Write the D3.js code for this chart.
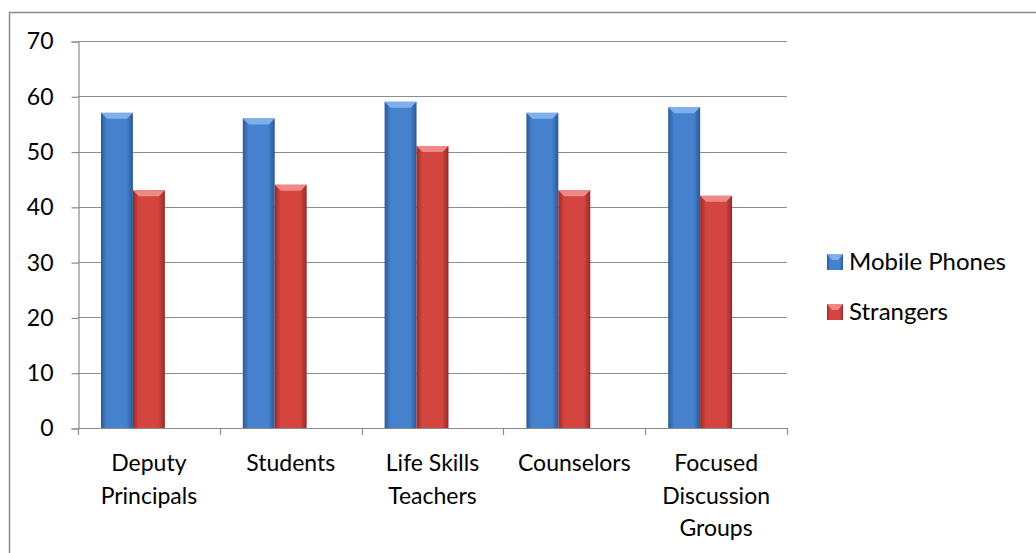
<!DOCTYPE html>
<html>
<head>
<meta charset="utf-8">
<script src="https://cdn.jsdelivr.net/npm/d3@7"></script>
<style>
  body { margin: 0; background: #fff; }
  svg { display: block; }
  text { font-family: Lato, "Open Sans", sans-serif; fill: #000; }
</style>
</head>
<body>
<svg id="chart"></svg>
<script>
var width = 1036,
  height = 553;

var categories = [['Deputy', 'Principals'], ['Students'], ['Life Skills', 'Teachers'],
  ['Counselors'], ['Focused', 'Discussion', 'Groups']];
var seriesNames = ['Mobile Phones', 'Strangers'];
var mobilePhones = [57, 56, 59, 57, 58];
var strangers = [43, 44, 51, 43, 42];
var yTicks = [0, 10, 20, 30, 40, 50, 60, 70];

var colors = [
  { mid: '#4581cc', edge: '#2a5a98', top: '#7fb0ec' },
  { mid: '#d4453f', edge: '#962a28', top: '#ee8a86' }
];

var fontSize = 23;

var svg = d3.select('#chart')
  .attr('width', width)
  .attr('height', height);

var defs = svg.append('defs');
colors.forEach(function(c, i) {
  var grad = defs.append('linearGradient')
    .attr('id', 'grad' + i)
    .attr('x1', 0).attr('x2', 1).attr('y1', 0).attr('y2', 0);
  grad.append('stop').attr('offset', '0%').attr('stop-color', c.edge);
  grad.append('stop').attr('offset', '18%').attr('stop-color', c.mid);
  grad.append('stop').attr('offset', '80%').attr('stop-color', c.mid);
  grad.append('stop').attr('offset', '100%').attr('stop-color', c.edge);
});

// chart border (only top/left visible in the frame)
svg.append('rect')
  .attr('x', 9.5).attr('y', 12.5)
  .attr('width', width + 20).attr('height', height + 20)
  .attr('fill', 'none')
  .attr('stroke', '#8c8c8c')
  .attr('stroke-width', 1.5);

var plotLeft = 78, plotRight = 787, plotTop = 41, plotBottom = 428;

var x = d3.scaleBand()
  .domain(d3.range(categories.length))
  .range([plotLeft, plotRight]);

// three slots per category (third series is empty)
var xs = d3.scaleBand()
  .domain([0, 1, 2])
  .range([0, x.bandwidth()])
  .paddingOuter(0.72)
  .paddingInner(0);

var y = d3.scaleLinear()
  .domain([0, 70])
  .range([plotBottom, plotTop]);

// gridlines
svg.append('g')
  .selectAll('line')
  .data(yTicks.slice(1))
  .enter().append('line')
  .attr('x1', plotLeft).attr('x2', plotRight)
  .attr('y1', function(d) { return Math.round(y(d)) + 0.5; })
  .attr('y2', function(d) { return Math.round(y(d)) + 0.5; })
  .attr('stroke', '#8c8c8c')
  .attr('stroke-width', 1.2);

// y axis
var yAxis = svg.append('g')
  .attr('transform', 'translate(' + (plotLeft + 0.5) + ',0.5)')
  .call(d3.axisLeft(y).tickValues(yTicks).tickSize(7).tickPadding(18));
yAxis.selectAll('.domain, line').attr('stroke', '#8c8c8c').attr('stroke-width', 1.2);
yAxis.selectAll('text')
  .attr('font-size', fontSize)
  .attr('font-family', 'Lato, sans-serif')
  .attr('fill', '#000');

// bars
var series = [mobilePhones, strangers];
series.forEach(function(vals, si) {
  var g = svg.append('g');
  var bars = g.selectAll('g')
    .data(vals)
    .enter().append('g')
    .attr('transform', function(d, i) {
      return 'translate(' + (x(i) + xs(si)) + ',0)';
    });
  var bw = xs.bandwidth();
  bars.append('rect')
    .attr('x', 0)
    .attr('y', function(d) { return y(d); })
    .attr('width', bw)
    .attr('height', function(d) { return y(0) - y(d); })
    .attr('fill', 'url(#grad' + si + ')');
  // bevel top
  bars.append('path')
    .attr('d', function(d) {
      var t = y(d);
      return 'M0,' + t + 'L' + bw + ',' + t + 'L' + (bw - 6) + ',' + (t + 6) +
        'L6,' + (t + 6) + 'Z';
    })
    .attr('fill', colors[si].top);
});

// x axis
var xAxisG = svg.append('g');
xAxisG.append('line')
  .attr('x1', plotLeft).attr('x2', plotRight)
  .attr('y1', plotBottom + 0.5).attr('y2', plotBottom + 0.5)
  .attr('stroke', '#8c8c8c').attr('stroke-width', 1.2);
xAxisG.selectAll('.tick')
  .data(d3.range(categories.length + 1))
  .enter().append('line')
  .attr('x1', function(d) { return Math.round(plotLeft + d * x.step()) + 0.5; })
  .attr('x2', function(d) { return Math.round(plotLeft + d * x.step()) + 0.5; })
  .attr('y1', plotBottom).attr('y2', plotBottom + 7)
  .attr('stroke', '#8c8c8c').attr('stroke-width', 1.2);

var labels = svg.append('g')
  .selectAll('text')
  .data(categories)
  .enter().append('text')
  .attr('text-anchor', 'middle')
  .attr('font-size', fontSize)
  .attr('x', function(d, i) { return x(i) + x.bandwidth() / 2; });
labels.selectAll('tspan')
  .data(function(d) { return d; })
  .enter().append('tspan')
  .attr('x', function() { return d3.select(this.parentNode).attr('x'); })
  .attr('y', function(d, i) { return 471 + i * 32.5; })
  .text(function(d) { return d; });

// legend
var legend = svg.append('g')
  .selectAll('g')
  .data(seriesNames)
  .enter().append('g')
  .attr('transform', function(d, i) { return 'translate(827,' + (254 + i * 50) + ')'; });
legend.append('rect')
  .attr('width', 16).attr('height', 16)
  .attr('fill', function(d, i) { return 'url(#grad' + i + ')'; });
legend.append('path')
  .attr('d', 'M0,0L16,0L11,6L5,6Z')
  .attr('fill', function(d, i) { return colors[i].top; });
legend.append('text')
  .attr('x', 22).attr('y', 16)
  .attr('font-size', 24)
  .text(function(d) { return d; });
</script>
</body>
</html>
